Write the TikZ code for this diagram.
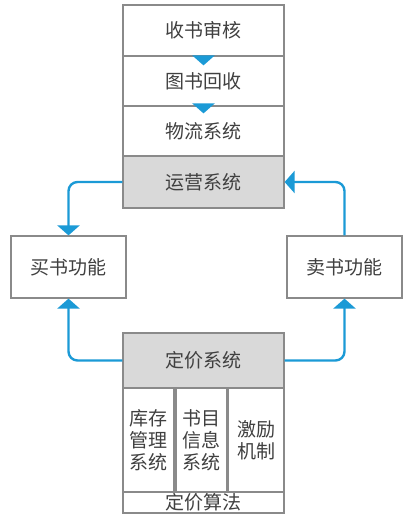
\documentclass[tikz,border=0pt]{standalone}
\usepackage{fontspec}
\setmainfont{Noto Sans CJK SC}
\usetikzlibrary{arrows.meta}
\definecolor{edgegray}{HTML}{8A8A8A}
\definecolor{boxfill}{HTML}{D9D9D9}
\definecolor{txtgray}{HTML}{404040}
\definecolor{flowblue}{HTML}{1B9AD6}

\begin{document}
\begin{tikzpicture}[x=1pt,y=1pt,
    box/.style={draw=edgegray, line width=1.2pt, fill=white},
    shaded/.style={box, fill=boxfill},
    flow/.style={draw=flowblue, line width=2.4pt, rounded corners=9pt, -{Triangle[width=22pt,length=10pt]}}]
    \tikzstyle{every node}+=[inner sep=0pt, text=txtgray, align=center, font=\fontsize{19}{22}\selectfont]
    \useasboundingbox (0,0) rectangle (414,-519);
    \node [box, minimum width=161pt, minimum height=51pt] (shou) at (203.5,-30.5) {收书审核};
    \node [box, minimum width=161pt, minimum height=50pt] (tuhs) at (203.5,-81) {图书回收};
    \node [box, minimum width=161pt, minimum height=50pt] (wuliu) at (203.5,-131) {物流系统};
    \node [shaded, minimum width=161pt, minimum height=52pt] (yunying) at (203.5,-182) {运营系统};
    \node [box, minimum width=115pt, minimum height=62pt] (maishu) at (68.5,-267) {买书功能};
    \node [box, minimum width=115pt, minimum height=62pt] (sellshu) at (344.5,-267) {卖书功能};
    \node [shaded, minimum width=161pt, minimum height=55pt] (dingjia) at (203.5,-360.5) {定价系统};
    \node [box, minimum width=51pt, minimum height=104pt] (kucun) at (148.5,-440) {库存\\管理\\系统};
    \node [box, minimum width=51pt, minimum height=104pt] (shumu) at (201.5,-440) {书目\\信息\\系统};
    \node [box, minimum width=56pt, minimum height=104pt] (jili) at (256,-440) {激励\\机制};
    \node [box, minimum width=161pt, minimum height=21pt] (suanfa) at (203.5,-502.5) {定价算法};
    \draw [flow] (shou.south) -- ([yshift=-10pt]tuhs.north);
    \draw [flow] (tuhs.south) -- ([yshift=-8pt]wuliu.north);
    \draw [flow] (yunying.west) -| (maishu.north);
    \draw [flow] (sellshu.north) |- (yunying.east);
    \draw [flow] (dingjia.west) -| (maishu.south);
    \draw [flow] (dingjia.east) -| (sellshu.south);
\end{tikzpicture}
\end{document}
